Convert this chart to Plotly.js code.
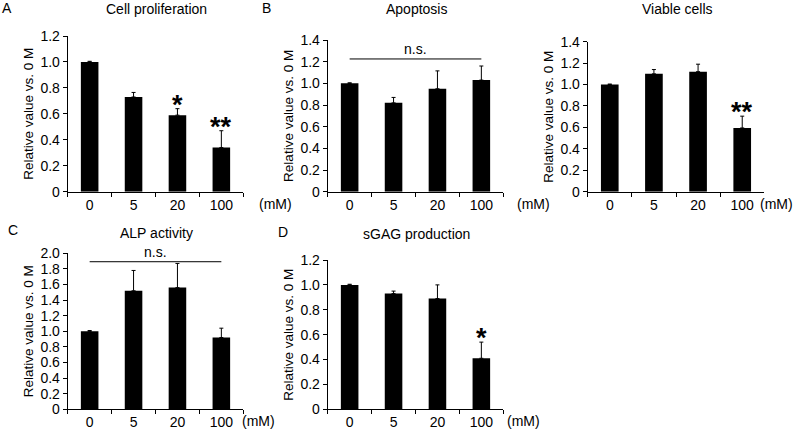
<!DOCTYPE html>
<html>
<head>
<meta charset="utf-8">
<script src="https://cdn.plot.ly/plotly-3.0.1.min.js"></script>
<style>html,body{margin:0;padding:0;background:#fff;}#chart{width:795px;height:432px;}</style>
</head>
<body>
<div id="chart"></div>
<script>
// ---- data ----
const doses = ['0', '5', '20', '100'];

const prolifMean = [1.0, 0.73, 0.59, 0.34];
const prolifErr  = [0.005, 0.035, 0.05, 0.13];

const apopMean = [1.0, 0.82, 0.95, 1.03];
const apopErr  = [0.005, 0.05, 0.165, 0.13];

const viableMean = [1.0, 1.10, 1.12, 0.595];
const viableErr  = [0.005, 0.04, 0.07, 0.11];

const alpMean = [1.0, 1.52, 1.56, 0.92];
const alpErr  = [0.01, 0.26, 0.31, 0.12];

const sgagMean = [1.0, 0.93, 0.89, 0.41];
const sgagErr  = [0.005, 0.02, 0.11, 0.13];

const ticks12 = [0, 0.2, 0.4, 0.6, 0.8, 1.0, 1.2];
const ticks12Text = ['0', '0.2', '0.4', '0.6', '0.8', '1.0', '1.2'];
const ticks14 = [0, 0.2, 0.4, 0.6, 0.8, 1.0, 1.2, 1.4];
const ticks14Text = ['0', '0.2', '0.4', '0.6', '0.8', '1.0', '1.2', '1.4'];
const ticks20 = [0, 0.2, 0.4, 0.6, 0.8, 1.0, 1.2, 1.4, 1.6, 1.8, 2.0];
const ticks20Text = ['0', '0.2', '0.4', '0.6', '0.8', '1.0', '1.2', '1.4', '1.6', '1.8', '2.0'];

const panelTitles = ['Cell proliferation', 'Apoptosis', 'Viable cells', 'ALP activity', 'sGAG production'];
const panelLetters = ['A', 'B', 'C', 'D'];
const yTitle = 'Relative value vs. 0 M';
const unitLabel = '(mM)';

// significance marks: [panel index, dose, text]
const starMarks = [[0, '20', '*'], [0, '100', '**'], [2, '100', '**'], [4, '100', '*']];
const nsLevels = [[1, 1.225], [3, 1.892]];

// ---- layout helpers ----
const W = 795, H = 432;
const px = v => v / W;
const py = v => 1 - v / H;
const FONT = 'Liberation Sans, Arial, sans-serif';
const FS = 14;

const panels = [
  {mean: prolifMean, err: prolifErr, x0: 67.7, x1: 243.3, yb: 191.7, yt: 36, ymax: 1.2, tv: ticks12, tt: ticks12Text},
  {mean: apopMean, err: apopErr, x0: 327.7, x1: 503.3, yb: 191.7, yt: 40, ymax: 1.4, tv: ticks14, tt: ticks14Text},
  {mean: viableMean, err: viableErr, x0: 587.7, x1: 764.3, yb: 191.7, yt: 41.7, ymax: 1.4, tv: ticks14, tt: ticks14Text},
  {mean: alpMean, err: alpErr, x0: 67.7, x1: 243.3, yb: 409.3, yt: 253.3, ymax: 2.0, tv: ticks20, tt: ticks20Text},
  {mean: sgagMean, err: sgagErr, x0: 327.7, x1: 503.3, yb: 409.3, yt: 260, ymax: 1.2, tv: ticks12, tt: ticks12Text}
];
const titleY = [9, 9, 9, 233, 234];
const unitX = [257, 515, 758, 240, 505];

const traces = [];
const layout = {
  width: W, height: H,
  margin: {l: 0, r: 0, t: 0, b: 0},
  paper_bgcolor: '#fff', plot_bgcolor: '#fff',
  showlegend: false,
  font: {family: FONT, size: FS, color: '#000'},
  annotations: [], shapes: []
};

panels.forEach((p, i) => {
  const n = i === 0 ? '' : String(i + 1);
  traces.push({
    type: 'bar', x: doses, y: p.mean, width: 0.4,
    xaxis: 'x' + n, yaxis: 'y' + n,
    marker: {color: '#000', line: {width: 0}},
    error_y: {type: 'data', symmetric: false, array: p.err, arrayminus: p.err.map(() => 0),
              color: '#000', thickness: 1, width: 2},
    hoverinfo: 'skip'
  });
  layout['xaxis' + n] = {
    domain: [px(p.x0), px(p.x1)], anchor: 'y' + n,
    type: 'category', categoryorder: 'array', categoryarray: doses, range: [-0.5, 3.5],
    showline: true, linecolor: '#000', linewidth: 1,
    ticks: 'outside', ticklen: 4, tickcolor: '#000', tickwidth: 1, tickson: 'boundaries',
    showgrid: false, zeroline: false, tickfont: {size: FS, family: FONT, color: '#000'},
    fixedrange: true
  };
  layout['yaxis' + n] = {
    domain: [py(p.yb), py(p.yt)], anchor: 'x' + n,
    range: [0, p.ymax], tickvals: p.tv, ticktext: p.tt,
    showline: true, linecolor: '#000', linewidth: 1,
    ticks: 'outside', ticklen: 4, tickcolor: '#000', tickwidth: 1,
    showgrid: false, zeroline: false, tickfont: {size: FS, family: FONT, color: '#000'},
    title: {text: yTitle, font: {size: 13.5, family: FONT, color: '#000'}, standoff: 3},
    fixedrange: true
  };
  // panel title
  layout.annotations.push({
    xref: 'paper', yref: 'paper', x: px((p.x0 + p.x1) / 2 + 1), y: py(titleY[i]),
    xanchor: 'center', yanchor: 'middle', showarrow: false,
    text: panelTitles[i], font: {size: FS, family: FONT, color: '#000'}
  });
  // unit label
  layout.annotations.push({
    xref: 'paper', yref: 'paper',
    x: px(unitX[i]), y: py(p.yb + 12),
    xanchor: 'left', yanchor: 'middle', showarrow: false,
    text: unitLabel, font: {size: FS, family: FONT, color: '#000'}
  });
});

// panel letters
const letterPos = [[7, 8], [266, 8], [13, 230], [283, 232]];
panelLetters.forEach((t, k) => {
  layout.annotations.push({
    xref: 'paper', yref: 'paper', x: px(letterPos[k][0]), y: py(letterPos[k][1]),
    xanchor: 'center', yanchor: 'middle', showarrow: false,
    text: t, font: {size: FS, family: FONT, color: '#000'}
  });
});

// significance stars
starMarks.forEach(([pi, d, s]) => {
  const p = panels[pi];
  const k = doses.indexOf(d);
  const n = pi === 0 ? '' : String(pi + 1);
  layout.annotations.push({
    xref: 'x' + n, yref: 'y' + n, x: k, y: p.mean[k] + p.err[k],
    xanchor: 'center', yanchor: 'middle', yshift: 4, showarrow: false,
    text: '<b>' + s + '</b>', font: {size: 27, family: FONT, color: '#000'}
  });
});

// n.s. brackets
nsLevels.forEach(([pi, lvl]) => {
  const n = pi === 0 ? '' : String(pi + 1);
  layout.shapes.push({
    type: 'line', xref: 'x' + n, yref: 'y' + n,
    x0: 0, x1: doses.length - 1, y0: lvl, y1: lvl,
    line: {color: '#000', width: 1}
  });
  layout.annotations.push({
    xref: 'x' + n, yref: 'y' + n, x: (doses.length - 1) / 2, y: lvl,
    xanchor: 'center', yanchor: 'bottom', showarrow: false,
    text: 'n.s.', font: {size: FS, family: FONT, color: '#000'}
  });
});

Plotly.newPlot('chart', traces, layout, {staticPlot: true, displayModeBar: false});
</script>
</body>
</html>
